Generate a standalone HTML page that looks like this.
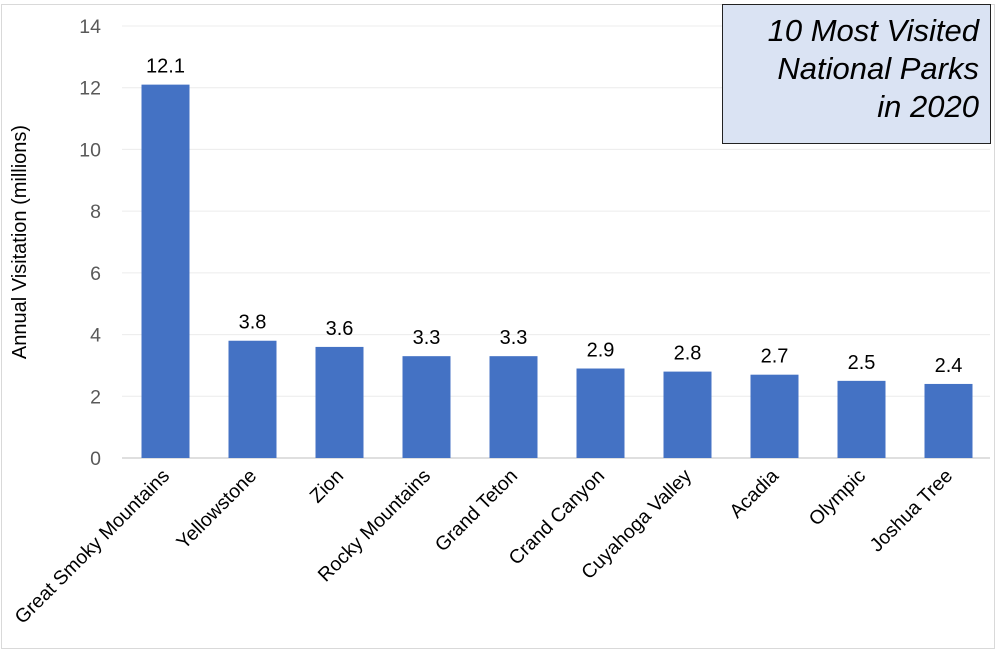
<!DOCTYPE html>
<html><head><meta charset="utf-8"><style>
body{margin:0;background:#fff;}
svg{display:block;font-family:"Liberation Sans",Arial,sans-serif;}
</style></head><body>
<svg id="chart" width="998" height="651" viewBox="0 0 998 651">
<rect x="1.5" y="4.5" width="993" height="644" fill="#fff" stroke="#d9d9d9"/>
<g id="grid"></g><g id="bars"></g><g id="labels"></g>
<text transform="translate(26,242) rotate(-90)" text-anchor="middle" font-size="20" fill="#000">Annual Visitation (millions)</text>
<g>
<rect x="722.5" y="4.5" width="268" height="139" fill="#dae3f3" stroke="#222" stroke-width="1"/>
<text x="979" y="41" text-anchor="end" font-size="31" font-style="italic" fill="#000">10 Most Visited</text>
<text x="979" y="79" text-anchor="end" font-size="31" font-style="italic" fill="#000">National Parks</text>
<text x="979" y="117" text-anchor="end" font-size="31" font-style="italic" fill="#000">in 2020</text>
</g>
</svg>
<script>
const categories=["Great Smoky Mountains","Yellowstone","Zion","Rocky Mountains","Grand Teton","Crand Canyon","Cuyahoga Valley","Acadia","Olympic","Joshua Tree"];
const values=[12.1,3.8,3.6,3.3,3.3,2.9,2.8,2.7,2.5,2.4];
const ticks=[0,2,4,6,8,10,12,14];
const NS="http://www.w3.org/2000/svg";
const x0=122,x1=992,yBase=458,yTop=26,yMax=14;
const band=(x1-x0)/categories.length;
const y=v=>yBase-(v/yMax)*(yBase-yTop);
const xc=i=>x0+band*(i+0.5);
function mk(t,a){const e=document.createElementNS(NS,t);for(const k in a)e.setAttribute(k,a[k]);return e;}
const grid=document.getElementById('grid'),bars=document.getElementById('bars'),labels=document.getElementById('labels');
ticks.forEach(t=>{
 const l=mk('line',{x1:x0,x2:x1-2,y1:y(t),y2:y(t),stroke:t===0?'#bfbfbf':'#ececec','stroke-width':1});
 
 
 grid.appendChild(l);
 const tx=mk('text',{x:101,y:y(t)+7,'text-anchor':'end','font-size':19.5,fill:'#595959'});
 
 
 tx.textContent=t;grid.appendChild(tx);
});
const bw=48;
categories.forEach((c,i)=>{
 const r=mk('rect',{x:xc(i)-bw/2,y:y(values[i]),width:bw,height:yBase-y(values[i]),fill:'#4472c4'});
 
 
 bars.appendChild(r);
 const v=mk('text',{x:xc(i),y:y(values[i])-12,'text-anchor':'middle','font-size':20,fill:'#000'});
 
 
 v.textContent=values[i].toFixed(1);labels.appendChild(v);
 const cx=xc(i)+5,cy=477;
 const t=mk('text',{x:cx,y:cy,'text-anchor':'end','font-size':19.5,fill:'#000',transform:`rotate(-45 ${cx} ${cy})`});
 
 
 t.textContent=c;labels.appendChild(t);
});
</script>
</body></html>
